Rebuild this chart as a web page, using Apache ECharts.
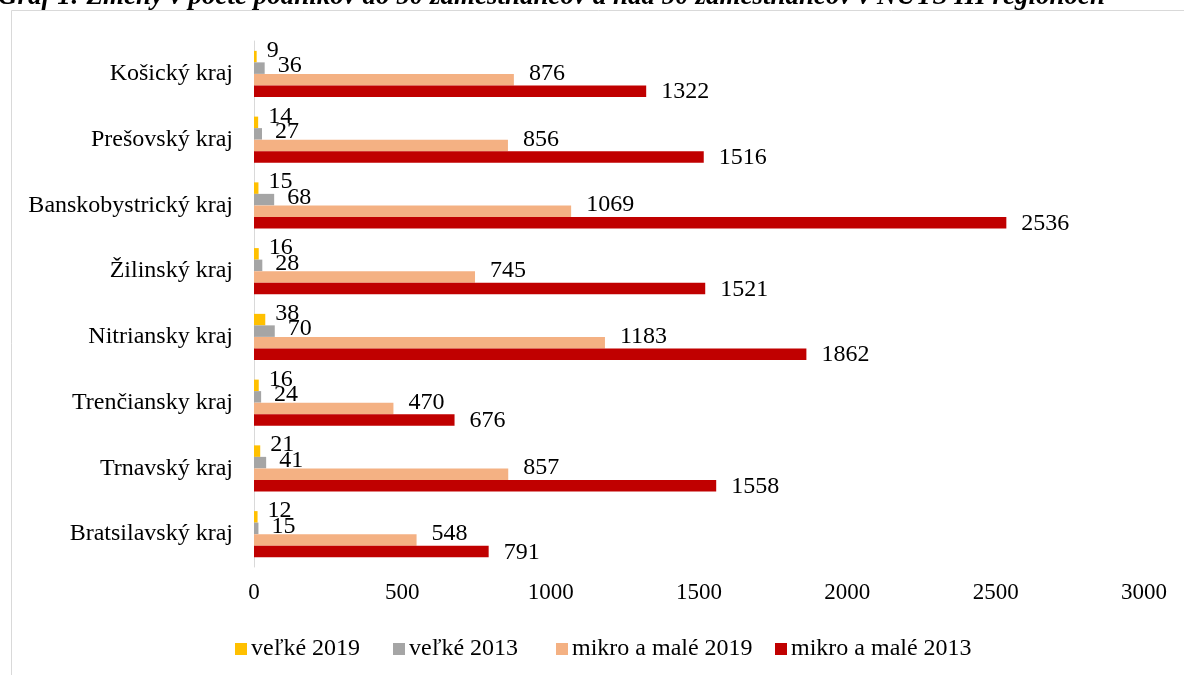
<!DOCTYPE html>
<html>
<head>
<meta charset="utf-8">
<script src="https://cdn.jsdelivr.net/npm/echarts@6/dist/echarts.min.js"></script>
<style>
html,body{margin:0;padding:0;background:#fff;}
#chart{width:1184px;height:675px;}
</style>
</head>
<body>
<div id="chart"></div>
<script>
const titleText = 'Graf 1: Zmeny v počte podnikov do 50 zamestnancov a nad 50 zamestnancov v NUTS III regiónoch';
const categories = ['Košický kraj','Prešovský kraj','Banskobystrický kraj','Žilinský kraj','Nitriansky kraj','Trenčiansky kraj','Trnavský kraj','Bratsilavský kraj'];
const seriesNames = ['veľké 2019','veľké 2013','mikro a malé 2019','mikro a malé 2013'];
const velke2019 = [9,14,15,16,38,16,21,12];
const velke2013 = [36,27,68,28,70,24,41,15];
const mikro2019 = [876,856,1069,745,1183,470,857,548];
const mikro2013 = [1322,1516,2536,1521,1862,676,1558,791];
const xTicks = [0,500,1000,1500,2000,2500,3000];

const colors = ['#FFC000','#A5A5A5','#F4B183','#C00000'];
const dataSets = [velke2019, velke2013, mikro2019, mikro2013];
const labelDist = [10,13,15,15];
const labelOff = [[0,-6],[0,-2],[0,-6],[0,1]];
const legendLeft = [235,393,556,775];
const FONT = '"Liberation Serif","Times New Roman",serif';

const chart = echarts.init(document.getElementById('chart'));
chart.setOption({
  animation:false,
  backgroundColor:'#fff',
  graphic:[
    {type:'rect',shape:{x:11.5,y:10.5,width:1200,height:700},style:{fill:'none',stroke:'#d9d9d9',lineWidth:1},silent:true},
    {type:'text',x:-2,y:-3,style:{text:titleText,font:'bold italic 27px "Liberation Serif"',fill:'#000',verticalAlign:'middle'}}
  ],
  grid:{left:254,right:40,top:41,bottom:108,containLabel:false},
  legend:seriesNames.map((n,i)=>({
    data:[n],
    left:legendLeft[i], top:637, padding:0,
    itemWidth:12,itemHeight:12,itemGap:5,
    icon:'rect',
    textStyle:{fontFamily:FONT,fontSize:24,color:'#000',padding:[0,0,0,-1]}
  })),
  xAxis:{
    type:'value',min:0,max:3000,interval:500,
    axisLine:{show:false},axisTick:{show:false},splitLine:{show:false},
    axisLabel:{fontFamily:FONT,fontSize:23,color:'#000',margin:14,
      formatter:function(v){return xTicks.indexOf(v)>=0?String(v):'';}}
  },
  yAxis:{
    type:'category',data:categories,inverse:true,
    axisLine:{show:true,lineStyle:{color:'#d9d9d9',width:1}},
    axisTick:{show:false},
    axisLabel:{fontFamily:FONT,fontSize:24,color:'#000',margin:21}
  },
  series:dataSets.map((d,i)=>({
    name:seriesNames[i],type:'bar',data:d,
    barGap:'0%',barCategoryGap:'30%',
    itemStyle:{color:colors[i]},
    label:{show:true,position:'right',distance:labelDist[i],offset:labelOff[i],
      fontFamily:FONT,fontSize:24,color:'#000'}
  }))
});
</script>
</body>
</html>
